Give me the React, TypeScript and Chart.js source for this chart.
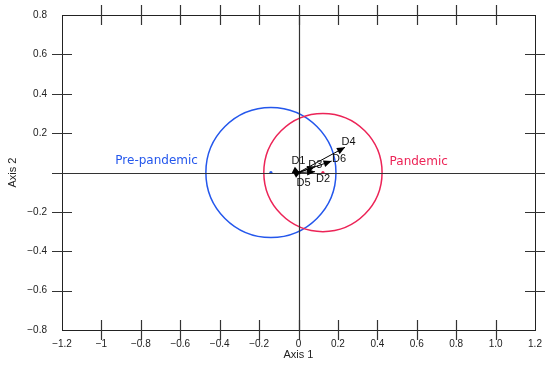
import React, { useEffect, useRef } from 'react';
import { Chart, registerables } from 'chart.js';

Chart.register(...registerables);

const xTickValues = [-1.2, -1, -0.8, -0.6, -0.4, -0.2, 0, 0.2, 0.4, 0.6, 0.8, 1.0, 1.2];
const xTickLabels = ['−1.2', '−1', '−0.8', '−0.6', '−0.4', '−0.2', '0', '0.2', '0.4', '0.6', '0.8', '1.0', '1.2'];
const yTickValues = [-0.8, -0.6, -0.4, -0.2, 0, 0.2, 0.4, 0.6, 0.8];
const yTickLabels = ['−0.8', '−0.6', '−0.4', '−0.2', '', '0.2', '0.4', '0.6', '0.8'];

const groupNames = ['Pre-pandemic', 'Pandemic'];
const groupCenterX = [-0.14, 0.124];
const groupCenterY = [0, 0];
const groupRadius = [0.33, 0.3];
const groupLabelX = [-0.72, 0.61];
const groupLabelY = [0.06, 0.055];

const vectorNames = ['D1', 'D2', 'D3', 'D4', 'D5', 'D6'];
const vectorX = [0.015, 0.084, 0.085, 0.236, 0.01, 0.168];
const vectorY = [0.008, 0.004, 0.03, 0.128, -0.005, 0.058];

// styling
const groupColors = ['#2457ec', '#ec2457'];
const vectorLabelOffsets: [number, number][] = [
  [-3, -10],
  [8, 7],
  [0, -2],
  [3.5, -5],
  [3, 9.5],
  [7.5, -2],
];
const FONT = '"Liberation Sans", Arial, Helvetica, sans-serif';

const biplotPlugin = {
  id: 'biplot',
  afterDatasetsDraw(chart: any) {
    const ctx = chart.ctx as CanvasRenderingContext2D;
    const xs = chart.scales.x;
    const ys = chart.scales.y;
    const { left, right, top, bottom } = chart.chartArea;
    ctx.save();

    // circles
    for (let i = 0; i < groupNames.length; i++) {
      const cx = xs.getPixelForValue(groupCenterX[i]);
      const cy = ys.getPixelForValue(groupCenterY[i]);
      const r = xs.getPixelForValue(groupCenterX[i] + groupRadius[i]) - cx;
      ctx.beginPath();
      ctx.arc(cx, cy, r, 0, Math.PI * 2);
      ctx.strokeStyle = groupColors[i];
      ctx.lineWidth = 1.5;
      ctx.stroke();
    }

    // zero lines
    const x0 = Math.round(xs.getPixelForValue(0)) + 0.5;
    const y0 = Math.round(ys.getPixelForValue(0)) + 0.5;
    ctx.strokeStyle = '#333';
    ctx.lineWidth = 1.2;
    ctx.beginPath();
    ctx.moveTo(left, y0);
    ctx.lineTo(right, y0);
    ctx.moveTo(x0, top);
    ctx.lineTo(x0, bottom);
    ctx.stroke();

    // border
    ctx.strokeStyle = '#222';
    ctx.lineWidth = 1;
    ctx.strokeRect(Math.round(left) + 0.5, Math.round(top) + 0.5, Math.round(right - left), Math.round(bottom - top));

    // crossing ticks
    const tl = 10;
    ctx.strokeStyle = '#333';
    ctx.lineWidth = 1.2;
    ctx.beginPath();
    xTickValues.forEach((v) => {
      if (v === xTickValues[0] || v === xTickValues[xTickValues.length - 1]) return;
      const px = Math.round(xs.getPixelForValue(v)) + 0.5;
      ctx.moveTo(px, top - tl);
      ctx.lineTo(px, top + tl);
      ctx.moveTo(px, bottom - tl);
      ctx.lineTo(px, bottom + tl);
    });
    yTickValues.forEach((v) => {
      if (v === yTickValues[0] || v === yTickValues[yTickValues.length - 1]) return;
      const py = Math.round(ys.getPixelForValue(v)) + 0.5;
      ctx.moveTo(left - tl, py);
      ctx.lineTo(left + tl, py);
      ctx.moveTo(right - tl, py);
      ctx.lineTo(right + tl, py);
    });
    ctx.stroke();

    // group labels
    ctx.font = `12px "DejaVu Sans", Verdana, sans-serif`;
    ctx.textAlign = 'center';
    ctx.textBaseline = 'middle';
    for (let i = 0; i < groupNames.length; i++) {
      ctx.fillStyle = groupColors[i];
      ctx.fillText(groupNames[i], xs.getPixelForValue(groupLabelX[i]), ys.getPixelForValue(groupLabelY[i]));
    }

    // vectors
    const ox = xs.getPixelForValue(0);
    const oy = ys.getPixelForValue(0);
    ctx.strokeStyle = '#000';
    ctx.fillStyle = '#000';
    ctx.lineWidth = 1;
    for (let i = 0; i < vectorNames.length; i++) {
      const tx = xs.getPixelForValue(vectorX[i]);
      const ty = ys.getPixelForValue(vectorY[i]);
      const ang = Math.atan2(ty - oy, tx - ox);
      ctx.beginPath();
      ctx.moveTo(ox, oy);
      ctx.lineTo(tx, ty);
      ctx.stroke();
      const L = 8;
      const W = 3.5;
      const bx = tx - L * Math.cos(ang);
      const by = ty - L * Math.sin(ang);
      ctx.beginPath();
      ctx.moveTo(tx, ty);
      ctx.lineTo(bx + W * Math.sin(ang), by - W * Math.cos(ang));
      ctx.lineTo(bx - W * Math.sin(ang), by + W * Math.cos(ang));
      ctx.closePath();
      ctx.fill();
    }
    ctx.font = `11px ${FONT}`;
    ctx.fillStyle = '#111';
    for (let i = 0; i < vectorNames.length; i++) {
      const tx = xs.getPixelForValue(vectorX[i]);
      const ty = ys.getPixelForValue(vectorY[i]);
      ctx.fillText(vectorNames[i], tx + vectorLabelOffsets[i][0], ty + vectorLabelOffsets[i][1]);
    }
    ctx.restore();
  },
};

export default function App() {
  const canvasRef = useRef<HTMLCanvasElement | null>(null);
  useEffect(() => {
    document.body.style.margin = '0';
    const canvas = canvasRef.current;
    if (!canvas) return;
    const chart = new Chart(canvas, {
      type: 'scatter',
      data: {
        datasets: groupNames.map((name, i) => ({
          label: name,
          data: [{ x: groupCenterX[i], y: groupCenterY[i] }],
          backgroundColor: groupColors[i],
          borderColor: groupColors[i],
          pointRadius: 1.6,
          borderWidth: 0,
        })),
      },
      options: {
        animation: false,
        responsive: true,
        maintainAspectRatio: false,
        layout: { padding: { top: 15, right: 15, left: 0, bottom: 0 } },
        plugins: { legend: { display: false }, tooltip: { enabled: false } },
        scales: {
          x: {
            type: 'linear',
            position: 'bottom',
            min: -1.2,
            max: 1.2,
            afterBuildTicks: (s: any) => {
              s.ticks = xTickValues.map((v) => ({ value: v }));
            },
            afterFit: (s: any) => {
              s.height = 51;
              s.paddingLeft = 0;
              s.paddingRight = 0;
            },
            ticks: {
              callback: (_v: any, i: number) => xTickLabels[i],
              padding: 8,
              autoSkip: false,
              maxRotation: 0,
              color: '#222',
              font: { family: FONT, size: 10 },
            },
            grid: { display: false, drawTicks: false },
            border: { display: false },
            title: {
              display: true,
              text: 'Axis 1',
              color: '#222',
              font: { family: FONT, size: 11 },
              padding: { top: 0, bottom: 19 },
            },
          },
          y: {
            type: 'linear',
            position: 'left',
            min: -0.8,
            max: 0.8,
            afterBuildTicks: (s: any) => {
              s.ticks = yTickValues.map((v) => ({ value: v }));
            },
            afterFit: (s: any) => {
              s.width = 62;
              s.paddingTop = 0;
              s.paddingBottom = 0;
            },
            ticks: {
              callback: (_v: any, i: number) => yTickLabels[i],
              padding: 15,
              autoSkip: false,
              color: '#222',
              font: { family: FONT, size: 10 },
            },
            grid: { display: false, drawTicks: false },
            border: { display: false },
            title: {
              display: true,
              text: 'Axis 2',
              color: '#222',
              font: { family: FONT, size: 11 },
              padding: { top: 6, bottom: 0 },
            },
          },
        },
      },
      plugins: [biplotPlugin],
    } as any);
    return () => chart.destroy();
  }, []);
  return (
    <div style={{ width: 550, height: 381, position: 'relative', background: '#fff' }}>
      <canvas ref={canvasRef} />
    </div>
  );
}
